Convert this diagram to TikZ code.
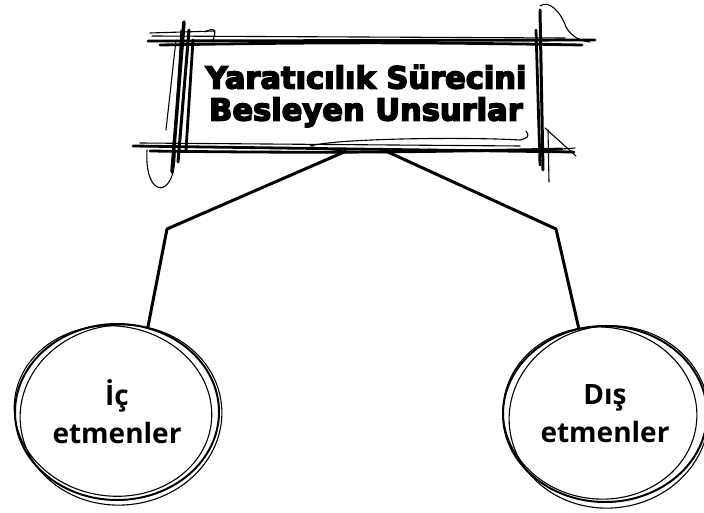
\documentclass[tikz,border=0pt]{standalone}
\usepackage{fontspec}
\newfontfamily\titlefont[FakeBold=5]{DejaVu Sans Bold}
\newfontfamily\circfont{Open Sans}
\usepackage{tikz}
\usetikzlibrary{positioning, shapes.geometric}

\begin{document}
\begin{tikzpicture}[x=1pt, y=-1pt]
        \tikzstyle{titlebox} = [rectangle, minimum width=360pt, minimum height=110pt, inner sep=0pt, align=center, font=\titlefont\fontsize{30.5}{32}\selectfont]
        \tikzstyle{factor} = [ellipse, draw, line width=2pt, minimum width=204pt, minimum height=176pt, inner sep=0pt, align=center, font=\circfont\bfseries\fontsize{28}{38}\selectfont]
        \tikzstyle{scrib} = [line width=2.8pt, line cap=round]
        \tikzstyle{scribthin} = [line width=1.1pt, line cap=round]
        \tikzstyle{link} = [line width=3pt, line join=round]
        \useasboundingbox (0,0) rectangle (704,513);

        % Nodes
        \node (title) [titlebox] at (366,96) {Yaratıcılık Sürecini\\Besleyen Unsurlar};
        \node (inner) [factor] at (117,412) {İç\\etmenler};
        \node (outer) [factor] at (605,414) {Dış\\etmenler};
        \coordinate (bendL) at (167,229);
        \coordinate (bendR) at (556,229);

        % Sketchy frame
        \draw[scrib] (148,41) -- (595,40);
        \draw[scrib] (160,45) to[bend left=1] (582,45);
        \draw[scribthin] (152,36) -- (565,38);
        \draw[scribthin] (150,33) -- (215,31);
        \draw[scrib] (133,146) -- (574,152);
        \draw[scrib] (150,151) to[bend right=1] (562,149);
        \draw[scribthin] (140,143) -- (520,146);
        \draw[scribthin] (310,146) .. controls (340,138) and (470,137) .. (520,140) .. controls (528,138) and (530,136) .. (526,131);
        \draw[scribthin] (312,147) .. controls (350,154) and (410,154) .. (430,149);
        \draw[line width=3.5pt, line cap=round] (184,22) -- (172,172);
        \draw[line width=3pt, line cap=round] (189,30) -- (178,162);
        \draw[scrib] (193,40) -- (186,150);
        \draw[scribthin] (176,40) -- (166,130);
        \draw[scribthin] (181,30) -- (174,150);
        \draw[scribthin] (205,32) .. controls (212,28) and (218,28) .. (213,40);
        \draw[scribthin] (147,150) .. controls (144,200) and (176,200) .. (175,152);
        \draw[line width=3pt, line cap=round] (540,10) -- (543,170);
        \draw[scrib] (536,30) -- (540,165);
        \draw[scribthin] (548,130) -- (549,182);
        \draw[scribthin] (540,6) .. controls (548,0) and (560,10) .. (566,27) .. controls (572,38) and (582,41) .. (590,42);
        \draw[scribthin] (545,128) -- (576,156);
        \draw[scribthin] (548,150) -- (575,148);

        % Sketchy circles
        \draw[scribthin] ([shift={(4,3)}]inner.center) ellipse [x radius=101, y radius=90, rotate=6];
        \draw[scribthin] ([shift={(-4,-1)}]inner.center) ellipse [x radius=99, y radius=85, rotate=-8];
        \draw[scribthin] ([shift={(4,3)}]outer.center) ellipse [x radius=100, y radius=91, rotate=7];
        \draw[scribthin] ([shift={(-5,-1)}]outer.center) ellipse [x radius=97, y radius=86, rotate=-6];

        % Links
        \draw [link] (title.-110) -- (bendL) -- (inner.70);
        \draw [link] (title.-70) -- (bendR) -- (outer.107);
\end{tikzpicture}
\end{document}
